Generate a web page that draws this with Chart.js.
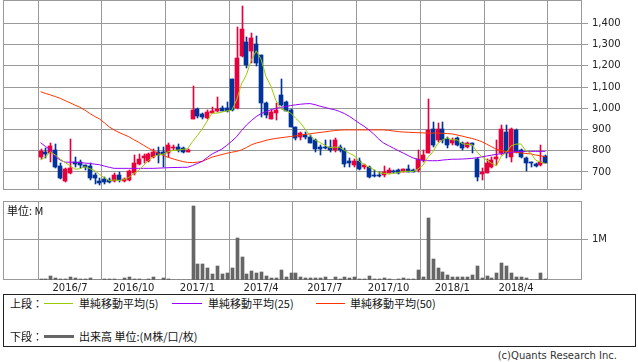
<!DOCTYPE html>
<html>
<head>
<meta charset="utf-8">
<script src="https://cdn.jsdelivr.net/npm/chart.js@4.4.1/dist/chart.umd.min.js"></script>
<style>
  body { margin: 0; width: 638px; height: 362px; overflow: hidden; position: relative; background: #fff; font-family: "DejaVu Sans", sans-serif; }
  canvas { position: absolute; left: 0; }
  #price { top: 0; }
  #volume { top: 195px; }
  .txt { position: absolute; white-space: nowrap; font-family: "Noto Sans CJK JP", sans-serif; font-size: 11px; line-height: 14px; color: #111; }
  #legend { position: absolute; left: 3px; top: 294px; width: 633px; height: 53px; box-sizing: border-box; border: 1px solid #222; }
  .ln { position: absolute; height: 1px; }
  #copy { position: absolute; right: 21px; top: 350px; font-size: 10px; color: #333; font-family: "DejaVu Sans", sans-serif; }
</style>
</head>
<body>
<canvas id="price" width="638" height="191"></canvas>
<canvas id="volume" width="638" height="99"></canvas>
<div class="txt" style="left:7px;top:203px;">単位: M</div>
<div id="legend">
  <div class="txt" style="left:6px;top:1px;">上段：</div>
  <div class="ln" style="left:40px;top:8px;width:29px;background:#99cc00;"></div>
  <div class="txt" style="left:75px;top:1px;">単純移動平均(5)</div>
  <div class="ln" style="left:168px;top:8px;width:30px;background:#9900ff;"></div>
  <div class="txt" style="left:204px;top:1px;">単純移動平均(25)</div>
  <div class="ln" style="left:312px;top:8px;width:29px;background:#ff3300;"></div>
  <div class="txt" style="left:346px;top:1px;">単純移動平均(50)</div>
  <div class="txt" style="left:6px;top:34px;">下段：</div>
  <div class="ln" style="left:40px;top:40px;width:30px;height:3px;background:#666;"></div>
  <div class="txt" style="left:75px;top:34px;">出来高 単位:(M株/口/枚)</div>
</div>
<div id="copy">(c)Quants Research Inc.</div>
<script>
// weekly candles, index 0 = first week shown
const opens = [772,795,790,804,730,658,697,748,749,731, 727,686,656,667,664,658,686,658,662,697,
  738,767,753,769,792,796,791,811,819,811, 796,951,995,973,953,979,987,1003,1000,1138,
  1000,1248,1311,1271,1303,1251,1027,951,979,1063, 1031,992,910,866,874,866,851,819,818,819,
  804,816,804,750,733,753,722,725,684,683, 686,697,702,709,702,712,711,709,757,791,
  901,851,901,854,835,858,835,816,835,760, 689,697,725,760,788,890,772,898,804,764,
  745,738,735,775];
const closes = [800,786,822,725,673,713,717,738,733,722, 672,670,648,652,654,686,662,665,705,741,
  761,776,785,796,780,785,827,819,804,796, 804,992,964,957,984,987,995,987,987,992,
  1235,1373,1204,1330,1215,1027,968,981,992,1016, 989,913,858,882,863,838,807,807,815,804,
  851,804,738,742,752,713,733,675,680,680, 702,709,698,695,712,702,702,760,780,898,
  827,901,851,827,851,827,811,835,827,678, 702,741,756,769,901,788,901,796,772,741,
  741,729,745,744];
const highs = [808,815,836,832,741,720,855,772,755,735, 741,694,670,678,673,694,702,672,709,780,
  785,785,791,807,816,819,835,827,830,819, 808,1105,1000,976,992,1008,1055,1011,1031,1140,
  1384,1482,1337,1353,1340,1251,1031,992,1023,1138, 1035,995,913,886,890,874,853,827,851,851,
  858,827,811,764,760,764,738,728,709,700, 728,720,709,716,716,733,716,804,804,1042,
  937,929,937,866,858,866,843,843,838,764, 717,760,772,851,921,921,905,901,810,772,
  749,744,827,778];
const lows = [760,765,745,717,668,652,690,725,720,710, 663,642,640,642,650,655,652,655,658,686,
  735,742,749,764,741,725,772,804,796,791, 793,948,953,948,948,976,983,985,984,988,
  995,1240,1188,1212,1200,961,953,948,945,1010, 985,910,851,851,855,835,796,780,807,796,
  796,796,725,725,725,709,716,670,678,678, 675,694,694,692,700,700,698,702,749,788,
  819,843,835,811,827,820,804,813,791,659, 662,694,717,733,780,764,749,790,764,706,
  722,722,730,740];
const ma5 = [757,770,795,780,761,744,730,713,715,725, 716,707,689,673,659,662,660,664,674,692,
  707,730,754,772,780,784,795,801,803,806, 810,843,872,903,940,977,977,982,988,990,
  1039,1115,1158,1227,1271,1230,1149,1104,1037,997, 989,978,954,932,901,871,850,839,826,814,
  817,816,802,788,777,750,736,723,711,696, 694,689,694,697,703,703,702,714,731,768,
  793,833,851,861,851,851,833,830,830,796, 771,757,741,729,774,791,823,831,832,800,
  790,756,746,740];
const ma25 = [838,820,804,772,756,746,746,746,744,742, 740,737,734,728,722,717,717,717,717,717,
  717,717,717,717,718,719,720,721,721,722, 722,730,740,750,768,785,796,808,825,845,
  866,895,921,942,961,975,984,993,1000,1004, 1008,1013,1016,1019,1021,1022,1017,1010,1004,998,
  993,985,975,962,946,930,915,898,878,855, 836,824,812,800,789,777,766,759,754,753,
  753,753,756,758,760,760,761,762,764,767, 771,775,779,783,786,789,792,796,796,796,
  797,797,797,797];
const ma50 = [1078,1070,1063,1055,1047,1036,1026,1015,1005,992, 976,962,950,932,912,898,886,876,866,852,
  840,826,812,800,788,778,769,762,755,749, 745,744,746,750,760,770,776,782,788,793,
  797,804,815,828,836,842,849,854,858,861, 864,867,870,874,877,880,883,886,889,892,
  895,897,898,898,898,898,898,898,898,898, 898,896,893,890,888,887,886,885,884,883,
  883,883,882,881,879,874,869,863,858,851, 843,831,819,807,801,796,794,792,790,787,
  785,780,776,772];
// volume in millions
const volume = [0.02,0.03,0.10,0.05,0.03,0.03,0.07,0.05,0.02,0.03, 0.05,0.01,0.01,0.02,0.03,0.03,0.01,0.04,0.07,0.03,
  0.03,0.01,0.03,0.07,0.01,0.05,0.03,0.01,0.01,0.01, 0.01,1.81,0.38,0.40,0.30,0.15,0.35,0.15,0.17,0.30,
  1.02,0.55,0.15,0.23,0.17,0.20,0.10,0.05,0.05,0.25, 0.08,0.17,0.17,0.08,0.05,0.05,0.05,0.05,0.07,0.01,
  0.07,0.03,0.07,0.05,0.08,0.03,0.03,0.09,0.03,0.03, 0.05,0.03,0.01,0.03,0.05,0.03,0.03,0.25,0.08,1.52,
  0.52,0.30,0.20,0.13,0.08,0.08,0.08,0.08,0.13,0.35, 0.05,0.10,0.05,0.17,0.42,0.33,0.17,0.08,0.08,0.05,
  0.01,0.01,0.17,0.03];
const monthLabels = ['2016/7','2016/10','2017/1','2017/4','2017/7','2017/10','2018/1','2018/4'];
const monthWeek = [6, 19, 32, 45, 58, 71, 84, 97];
const priceTicks = [700, 800, 900, 1000, 1100, 1200, 1300, 1400];
const volumeTicks = [1];

const RED = '#e8003c', BLUE = '#003399', GRID = '#999';
const X_MIN = -7.67, X_MAX = 110.47;

Chart.defaults.font.family = 'DejaVu Sans';
Chart.defaults.font.size = 10;
Chart.defaults.color = '#222';

const candleColor = c => closes[c.dataIndex] >= opens[c.dataIndex] ? RED : BLUE;
const pts = arr => arr.map((v, i) => ({ x: i, y: v }));

// grey box round each plot area
const frame = {
  id: 'frame',
  beforeDatasetsDraw(chart) {
    const a = chart.chartArea, ctx = chart.ctx;
    ctx.save();
    ctx.strokeStyle = GRID;
    ctx.lineWidth = 1;
    ctx.strokeRect(a.left + 0.5, a.top + 0.5, a.right - a.left - 1, a.bottom - a.top - 1);
    ctx.restore();
  }
};

// round bar edges to whole pixels so thin wicks stay sharp
const snap = {
  id: 'snap',
  beforeDatasetsDraw(chart) {
    chart.data.datasets.forEach((ds, di) => {
      const meta = chart.getDatasetMeta(di);
      if (meta.type !== 'bar') return;
      meta.data.forEach(el => {
        el.x = Math.round(el.x) + (ds.barThickness % 2 ? 0.5 : 0);
        el.y = Math.round(el.y);
        el.base = Math.round(el.base);
      });
    });
  }
};

function xScale(showLabels) {
  return {
    type: 'linear', min: X_MIN, max: X_MAX, offset: false,
    afterBuildTicks: s => { s.ticks = monthWeek.map(v => ({ value: v })); },
    ticks: { display: showLabels, callback: (v, i) => monthLabels[i], maxRotation: 0, autoSkip: false, padding: 2 },
    grid: { color: GRID, drawTicks: false },
    border: { display: false },
    afterFit: s => { s.height = showLabels ? 14 : 0; s.paddingLeft = 0; s.paddingRight = 0; }
  };
}

function yScale(min, max, tickValues, fmt) {
  return {
    position: 'right', min: min, max: max,
    afterBuildTicks: s => { s.ticks = tickValues.map(v => ({ value: v })); },
    ticks: { callback: fmt, padding: 4 },
    grid: { color: GRID, tickLength: 6 },
    border: { display: false },
    afterFit: s => { s.width = 56; s.paddingTop = 0; s.paddingBottom = 0; }
  };
}

new Chart(document.getElementById('price'), {
  type: 'bar',
  data: {
    datasets: [
      { type: 'line', label: '単純移動平均(5)', data: pts(ma5), borderColor: '#99cc00', borderWidth: 1, pointRadius: 0, tension: 0 },
      { type: 'line', label: '単純移動平均(25)', data: pts(ma25), borderColor: '#9900ff', borderWidth: 1, pointRadius: 0, tension: 0 },
      { type: 'line', label: '単純移動平均(50)', data: pts(ma50), borderColor: '#ff3300', borderWidth: 1, pointRadius: 0, tension: 0 },
      { label: 'body', data: opens.map((o, i) => ({ x: i, y: [o, closes[i]] })), backgroundColor: candleColor, barThickness: 4, minBarLength: 1, grouped: false },
      { label: 'wick', data: lows.map((l, i) => ({ x: i, y: [l, highs[i]] })), backgroundColor: candleColor, barThickness: 1, grouped: false }
    ]
  },
  options: {
    responsive: false, animation: false,
    layout: { padding: { left: 3, top: 0, right: 0, bottom: 1 } },
    plugins: { legend: { display: false }, tooltip: { enabled: false } },
    scales: {
      x: xScale(false),
      y: yScale(615, 1510, priceTicks, v => v.toLocaleString('en-US'))
    }
  },
  plugins: [frame, snap]
});

new Chart(document.getElementById('volume'), {
  type: 'bar',
  data: {
    datasets: [
      { label: '出来高', data: pts(volume), backgroundColor: '#666', barThickness: 3, grouped: false }
    ]
  },
  options: {
    responsive: false, animation: false,
    layout: { padding: { left: 3, top: 6, right: 0, bottom: 0 } },
    plugins: { legend: { display: false }, tooltip: { enabled: false } },
    scales: {
      x: xScale(true),
      y: yScale(0, 1.93, volumeTicks, v => v + 'M')
    }
  },
  plugins: [frame, snap]
});
</script>
</body>
</html>
